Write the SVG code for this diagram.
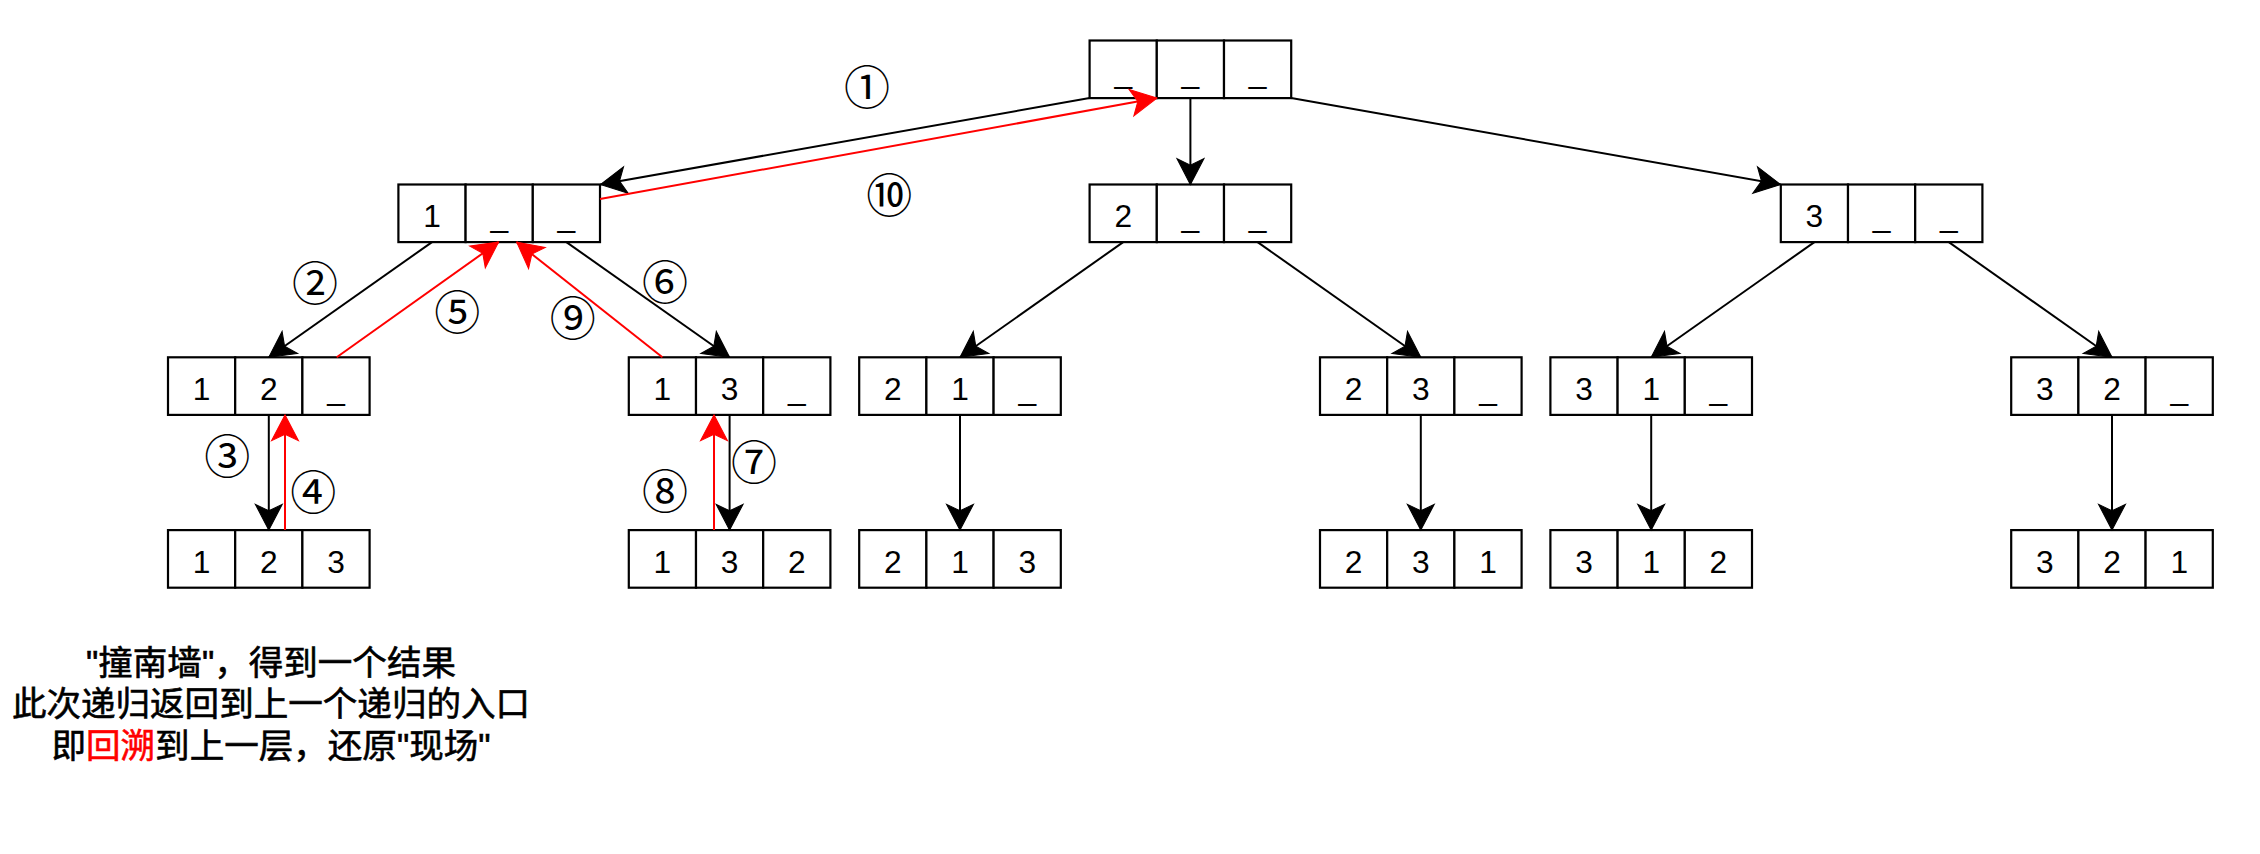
<svg xmlns="http://www.w3.org/2000/svg" width="2260" height="854" viewBox="0 0 2260 854">
<style>
.cell{fill:#fff;stroke:#000;stroke-width:2.2}
.d{font-family:"Liberation Sans",Arial,sans-serif;font-size:31.7px;fill:#000;text-anchor:middle}
.e{fill:none;stroke:#000;stroke-width:2}
.eb{marker-end:url(#ab)}
.er{fill:none;stroke:#ff0000;stroke-width:2;marker-end:url(#ar)}
.lb{font-family:"Noto Sans CJK SC","DejaVu Sans",sans-serif;font-size:46px;fill:#000;text-anchor:middle;dominant-baseline:central}
.note{font-family:"Liberation Sans","Noto Sans CJK SC",sans-serif;font-size:34.56px;fill:#000;stroke:#000;stroke-width:0.6;text-anchor:middle}
.red{fill:#ff0000;stroke:#ff0000}
</style>
<defs>
<marker id="ab" markerUnits="userSpaceOnUse" markerWidth="30" markerHeight="30" viewBox="-26 -14 28 28" refX="0" refY="0" orient="auto">
<path d="M0,0 L-24,-12.5 L-18,0 L-24,12.5 Z" fill="#000" stroke="#000" stroke-width="1"/>
</marker>
<marker id="ar" markerUnits="userSpaceOnUse" markerWidth="30" markerHeight="30" viewBox="-26 -14 28 28" refX="0" refY="0" orient="auto">
<path d="M0,0 L-24,-12.5 L-18,0 L-24,12.5 Z" fill="#ff0000" stroke="#ff0000" stroke-width="1"/>
</marker>
<g id="cells3">
<rect class="cell" x="0" y="0" width="67.2" height="57.6"/>
<rect class="cell" x="67.2" y="0" width="67.2" height="57.6"/>
<rect class="cell" x="134.4" y="0" width="67.2" height="57.6"/>
</g>
</defs>
<rect x="0" y="0" width="2260" height="854" fill="#fff"/>

<g id="nodes">
<g id="n-root" transform="translate(1089.6,40.5)"><use href="#cells3"/><text class="d" x="33.6" y="42.7">_</text><text class="d" x="100.8" y="42.7">_</text><text class="d" x="168" y="42.7">_</text></g>
<g id="n-1" transform="translate(398.4,184.5)"><use href="#cells3"/><text class="d" x="33.6" y="42.7">1</text><text class="d" x="100.8" y="42.7">_</text><text class="d" x="168" y="42.7">_</text></g>
<g id="n-2" transform="translate(1089.6,184.5)"><use href="#cells3"/><text class="d" x="33.6" y="42.7">2</text><text class="d" x="100.8" y="42.7">_</text><text class="d" x="168" y="42.7">_</text></g>
<g id="n-3" transform="translate(1780.8,184.5)"><use href="#cells3"/><text class="d" x="33.6" y="42.7">3</text><text class="d" x="100.8" y="42.7">_</text><text class="d" x="168" y="42.7">_</text></g>
<g id="n-12" transform="translate(168,357.3)"><use href="#cells3"/><text class="d" x="33.6" y="42.7">1</text><text class="d" x="100.8" y="42.7">2</text><text class="d" x="168" y="42.7">_</text></g>
<g id="n-13" transform="translate(628.8,357.3)"><use href="#cells3"/><text class="d" x="33.6" y="42.7">1</text><text class="d" x="100.8" y="42.7">3</text><text class="d" x="168" y="42.7">_</text></g>
<g id="n-21" transform="translate(859.2,357.3)"><use href="#cells3"/><text class="d" x="33.6" y="42.7">2</text><text class="d" x="100.8" y="42.7">1</text><text class="d" x="168" y="42.7">_</text></g>
<g id="n-23" transform="translate(1320,357.3)"><use href="#cells3"/><text class="d" x="33.6" y="42.7">2</text><text class="d" x="100.8" y="42.7">3</text><text class="d" x="168" y="42.7">_</text></g>
<g id="n-31" transform="translate(1550.4,357.3)"><use href="#cells3"/><text class="d" x="33.6" y="42.7">3</text><text class="d" x="100.8" y="42.7">1</text><text class="d" x="168" y="42.7">_</text></g>
<g id="n-32" transform="translate(2011.2,357.3)"><use href="#cells3"/><text class="d" x="33.6" y="42.7">3</text><text class="d" x="100.8" y="42.7">2</text><text class="d" x="168" y="42.7">_</text></g>
<g id="n-123" transform="translate(168,530.1)"><use href="#cells3"/><text class="d" x="33.6" y="42.7">1</text><text class="d" x="100.8" y="42.7">2</text><text class="d" x="168" y="42.7">3</text></g>
<g id="n-132" transform="translate(628.8,530.1)"><use href="#cells3"/><text class="d" x="33.6" y="42.7">1</text><text class="d" x="100.8" y="42.7">3</text><text class="d" x="168" y="42.7">2</text></g>
<g id="n-213" transform="translate(859.2,530.1)"><use href="#cells3"/><text class="d" x="33.6" y="42.7">2</text><text class="d" x="100.8" y="42.7">1</text><text class="d" x="168" y="42.7">3</text></g>
<g id="n-231" transform="translate(1320,530.1)"><use href="#cells3"/><text class="d" x="33.6" y="42.7">2</text><text class="d" x="100.8" y="42.7">3</text><text class="d" x="168" y="42.7">1</text></g>
<g id="n-312" transform="translate(1550.4,530.1)"><use href="#cells3"/><text class="d" x="33.6" y="42.7">3</text><text class="d" x="100.8" y="42.7">1</text><text class="d" x="168" y="42.7">2</text></g>
<g id="n-321" transform="translate(2011.2,530.1)"><use href="#cells3"/><text class="d" x="33.6" y="42.7">3</text><text class="d" x="100.8" y="42.7">2</text><text class="d" x="168" y="42.7">1</text></g>
</g>

<g id="connectors">
<path class="e eb" d="M1089.6,98.1 L600.5,184.5"/>
<path class="e eb" d="M1190.4,98.1 L1190.4,184.5"/>
<path class="e eb" d="M1291.2,98.1 L1780.5,184.5"/>
<path class="e eb" d="M432,242.1 L268.8,357.3"/>
<path class="e eb" d="M566.4,242.1 L729.6,357.3"/>
<path class="e eb" d="M268.8,414.9 L268.8,530.1"/>
<path class="e eb" d="M729.6,414.9 L729.6,530.1"/>
<path class="e eb" d="M1123.2,242.1 L960,357.3"/>
<path class="e eb" d="M1257.6,242.1 L1420.8,357.3"/>
<path class="e eb" d="M960,414.9 L960,530.1"/>
<path class="e eb" d="M1420.8,414.9 L1420.8,530.1"/>
<path class="e eb" d="M1814.4,242.1 L1651.2,357.3"/>
<path class="e eb" d="M1948.8,242.1 L2112,357.3"/>
<path class="e eb" d="M1651.2,414.9 L1651.2,530.1"/>
<path class="e eb" d="M2112,414.9 L2112,530.1"/>
<path class="er" d="M600,199 L1156.8,98.1"/>
<path class="er" d="M336.7,357.3 L498.5,242.1"/>
<path class="er" d="M662.4,357.3 L516.7,242.1"/>
<path class="er" d="M285,530.1 L285,414.9"/>
<path class="er" d="M714,530.1 L714,414.9"/>
</g>

<g id="labels">
<text class="lb" x="867" y="84.3">①</text>
<text class="lb" x="315" y="280">②</text>
<text class="lb" x="227.3" y="452.7">③</text>
<text class="lb" x="313.3" y="489.3">④</text>
<text class="lb" x="457.3" y="309">⑤</text>
<text class="lb" x="665" y="279.3">⑥</text>
<text class="lb" x="754" y="459.3">⑦</text>
<text class="lb" x="665" y="488.3">⑧</text>
<text class="lb" x="572.7" y="315">⑨</text>
<text class="lb" x="889.3" y="191.7">⑩</text>
</g>

<g id="note">
<text class="note" x="271" y="674.5">"撞南墙"，得到一个结果</text>
<text class="note" x="271" y="716">此次递归返回到上一个递归的入口</text>
<text class="note" x="271" y="757.5">即<tspan class="red">回溯</tspan>到上一层，还原"现场"</text>
</g>
</svg>
